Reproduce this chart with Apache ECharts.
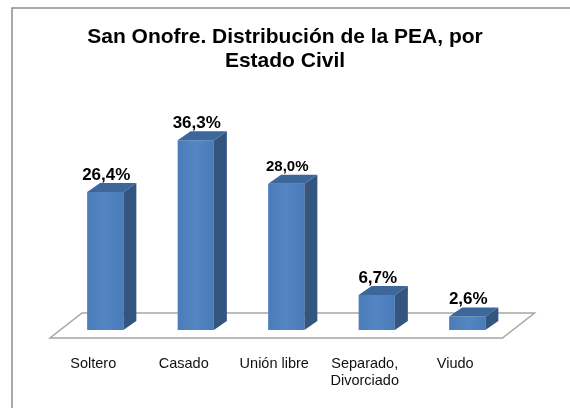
<!DOCTYPE html>
<html>
<head>
<meta charset="utf-8">
<script src="https://cdn.jsdelivr.net/npm/echarts@6/dist/echarts.min.js"></script>
<style>
  html, body { margin: 0; padding: 0; background: #fff; }
  #main { width: 570px; height: 408px; }
</style>
</head>
<body>
<div id="main"></div>
<script>
// datos
var categorias = ['Soltero', 'Casado', 'Unión libre', 'Separado,\nDivorciado', 'Viudo'];
var valores = [26.4, 36.3, 28.0, 6.7, 2.6];
var etiquetas = ['26,4%', '36,3%', '28,0%', '6,7%', '2,6%'];

var FONT = '"Liberation Sans", Arial, sans-serif';
// profundidad del efecto 3D
var DX = 13, DY = 9;

var myChart = echarts.init(document.getElementById('main'));

// piso del grafico (plano en perspectiva)
function renderPiso(params, api) {
  var cs = params.coordSys;
  var y0 = api.coord([0, 0])[1];
  var yb = y0 - 17, yf = y0 + 8;
  var xl = cs.x, xr = cs.x + cs.width;
  return {
    type: 'polygon',
    shape: { points: [[xl + 22, yb], [xr + 22, yb], [xr - 10, yf], [xl - 10, yf]] },
    style: { fill: '#fff', stroke: '#a6a6a6', lineWidth: 1.5 },
    z2: 0
  };
}

function renderBarra(params, api) {
  var idx = api.value(0);
  var top = api.coord([idx, api.value(1)]);
  var base = api.coord([idx, 0]);
  var w = api.size([1, 0])[0] * 0.4;
  var x0 = top[0] - w / 2, x1 = top[0] + w / 2;
  var yt = top[1], yb = base[1];
  var fs = idx === 2 ? 15 : 17;
  return {
    type: 'group',
    children: [
      { // frente
        type: 'rect',
        shape: { x: x0, y: yt, width: w, height: yb - yt },
        style: {
          fill: new echarts.graphic.LinearGradient(0, 0, 1, 0, [
            { offset: 0, color: '#4a7cba' },
            { offset: 0.5, color: '#5486c4' },
            { offset: 1, color: '#4a7bb8' }
          ])
        }
      },
      { // lado
        type: 'polygon',
        shape: { points: [[x1, yt], [x1 + DX, yt - DY], [x1 + DX, yb - DY], [x1, yb]] },
        style: { fill: '#33557f' }
      },
      { // tapa
        type: 'polygon',
        shape: { points: [[x0, yt], [x0 + DX, yt - DY], [x1 + DX, yt - DY], [x1, yt]] },
        style: { fill: '#3d669a' }
      },
      {
        type: 'text',
        style: {
          x: top[0] + 1, y: yt - 17,
          text: etiquetas[idx],
          align: 'center', verticalAlign: 'middle',
          font: 'bold ' + fs + 'px ' + FONT,
          fill: '#000'
        }
      }
    ]
  };
}

myChart.setOption({
  backgroundColor: '#fff',
  animation: false,
  title: {
    text: 'San Onofre. Distribución de la PEA, por\nEstado Civil',
    left: 'center',
    top: 25,
    padding: [0, 0, 0, 10],
    textStyle: { fontFamily: FONT, fontSize: 21, fontWeight: 'bold', color: '#000', lineHeight: 24 }
  },
  graphic: [{
    type: 'rect',
    shape: { x: 12, y: 8, width: 620, height: 460 },
    style: { fill: 'none', stroke: '#8c8c8c', lineWidth: 1.5 },
    silent: true
  }],
  grid: { left: 60, right: 57.5, top: 121, bottom: 78 },
  xAxis: {
    type: 'category',
    data: categorias,
    axisLine: { show: false },
    axisTick: { show: false },
    axisLabel: {
      margin: 25,
      padding: [0, 24, 0, 0],
      fontFamily: FONT,
      fontSize: 14.5,
      lineHeight: 17,
      color: '#111',
      interval: 0
    }
  },
  yAxis: { type: 'value', min: 0, max: 40, show: false },
  series: [
    {
      type: 'custom',
      renderItem: renderPiso,
      data: [[0, 0]],
      z: 1,
      silent: true
    },
    {
      type: 'custom',
      renderItem: renderBarra,
      data: valores.map(function (v, i) { return [i, v]; }),
      encode: { x: 0, y: 1 },
      z: 2
    }
  ]
});
</script>
</body>
</html>
